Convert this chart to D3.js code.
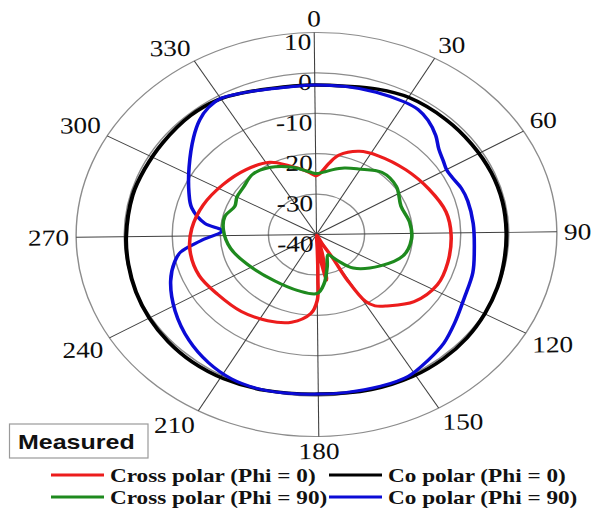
<!DOCTYPE html>
<html>
<head>
<meta charset="utf-8">
<script src="https://cdn.jsdelivr.net/npm/d3@7"></script>
<style>
  body { margin: 0; background: #fff; }
  svg { display: block; }
</style>
</head>
<body>
<svg id="chart"></svg>
<script>
const width = 595
const height = 508

// the source picture is a bit wider than tall and very slightly turned
const stretch = 1.19
const tilt = -0.65
const cx = 316.5
const cy = 234.5
const outerRadius = 202

// Axis configuration
const ringTicks = [-40, -30, -20, -10, 0, 10]
const angleTicks = [0, 30, 60, 90, 120, 150, 180, 210, 240, 270, 300, 330]

// Series data (angle in degrees, gain in dB)
const crossPhi0Angles = [0, 3, 9, 14, 24, 34, 50, 65, 79, 91, 105, 117, 130, 141, 146, 149, 151, 150.5, 153, 160, 166, 170, 173, 176, 178, 179, 180, 184, 194, 206, 220, 235, 248, 262, 274, 288, 303, 318, 332, 342, 352, 356]
const crossPhi0Values = [-25.5, -25.0, -22.2, -19.8, -17.6, -16.7, -15.5, -14.1, -12.5, -12.0, -11.8, -11.9, -13.7, -17.0, -18.5, -20.5, -27.0, -33.0, -37.5, -39.8, -35.5, -28.5, -34.0, -39.5, -36.0, -29.0, -23.7, -20.4, -17.7, -16.4, -15.4, -14.7, -13.6, -13.4, -14.0, -15.3, -16.9, -18.2, -19.6, -22.0, -24.0, -24.8]

const coPhi0Angles = [0, 10, 20, 30, 44, 56, 68, 79, 90, 100, 110, 120, 130, 140, 151, 164, 180, 196, 209, 220, 230, 240, 250, 260, 270, 285, 295, 306, 319, 329, 337, 346, 353]
const coPhi0Values = [-3.0, -2.8, -1.9, -1.1, -0.9, -0.8, -0.6, -0.5, -0.5, -0.4, -0.1, 0.2, 0.5, 0.6, 0.5, 0.1, -0.5, 0.0, 0.5, 0.7, 0.6, 0.4, 0.1, -0.2, -0.4, -0.5, -0.7, -0.7, -0.5, -0.8, -1.7, -2.6, -2.9]

const crossPhi90Angles = [0, 6, 12, 20, 29, 42, 55, 69, 82, 94, 107, 121, 138, 147, 155, 165, 173, 180, 196, 218, 244, 260, 274, 284, 293, 300, 308, 319, 330, 344, 355]
const crossPhi90Values = [-24.9, -24.5, -23.7, -22.6, -21.6, -19.5, -19.6, -21.1, -20.4, -20.2, -21.2, -24.6, -28.7, -32.4, -34.4, -31.7, -27.8, -25.4, -25.6, -25.6, -23.8, -21.8, -20.6, -20.4, -21.6, -21.0, -20.8, -20.0, -20.7, -22.6, -24.4]

const coPhi90Angles = [0, 10, 20, 30, 35, 40, 46, 51, 56, 60, 64, 70, 76, 86, 98, 107, 118, 128, 136, 144, 152, 161, 172, 180, 188, 198, 207, 216, 226, 238, 250, 258, 262, 267, 273.5, 277.5, 285, 292, 303, 314, 320, 325, 330, 337, 346, 353]
const coPhi90Values = [-3.0, -2.9, -2.7, -2.5, -2.6, -3.5, -5.2, -7.0, -8.0, -8.6, -8.5, -7.8, -7.5, -7.3, -6.9, -6.1, -5.4, -3.8, -2.2, -1.1, 0.0, -0.1, -0.4, -0.5, -0.3, 0.0, -0.2, -1.2, -2.8, -5.1, -7.6, -9.8, -11.4, -15.8, -20.3, -16.6, -13.2, -11.5, -8.6, -4.8, -2.6, -1.3, -0.8, -1.7, -2.7, -3.0]

const seriesNames = ["Cross polar (Phi = 0)", "Co polar (Phi = 0)", "Cross polar (Phi = 90)", "Co polar (Phi = 90)"]
const seriesColors = ["#ec1c1c", "#000000", "#1e8a1e", "#0b0bd6"]

const series = [
    { name: seriesNames[0], color: seriesColors[0], points: d3.zip(crossPhi0Angles, crossPhi0Values) },
    { name: seriesNames[1], color: seriesColors[1], points: d3.zip(coPhi0Angles, coPhi0Values) },
    { name: seriesNames[2], color: seriesColors[2], points: d3.zip(crossPhi90Angles, crossPhi90Values) },
    { name: seriesNames[3], color: seriesColors[3], points: d3.zip(coPhi90Angles, coPhi90Values) }
]

const serif = "'Liberation Serif', 'Times New Roman', serif"

const svg = d3.select("#chart")
    .attr("width", width)
    .attr("height", height)

svg.append("rect")
    .attr("width", width)
    .attr("height", height)
    .attr("fill", "#fff")

const r = d3.scaleLinear()
    .domain([ringTicks[0], ringTicks[ringTicks.length - 1]])
    .range([0, outerRadius])
    .clamp(true)

const rad = deg => deg * Math.PI / 180

const plot = svg.append("g")
    .attr("transform", `translate(${cx},${cy}) rotate(${tilt}) scale(${stretch},1)`)

// rings
plot.append("g")
    .selectAll("circle")
    .data(ringTicks.slice(1))
    .enter()
    .append("circle")
    .attr("r", d => r(d))
    .attr("fill", "none")
    .attr("stroke", "#8c8c8c")
    .attr("stroke-width", 1.2)

// spokes
plot.append("g")
    .selectAll("line")
    .data(angleTicks)
    .enter()
    .append("line")
    .attr("x1", 0)
    .attr("y1", 0)
    .attr("x2", d => outerRadius * Math.sin(rad(d)))
    .attr("y2", d => -outerRadius * Math.cos(rad(d)))
    .attr("stroke", "#404040")
    .attr("stroke-width", 0.9)

// angle labels
const labelGap = 6
plot.append("g")
    .selectAll("text")
    .data(angleTicks)
    .enter()
    .append("text")
    .attr("x", d => (outerRadius + labelGap) * Math.sin(rad(d)))
    .attr("y", d => -(outerRadius + labelGap) * Math.cos(rad(d)))
    .attr("text-anchor", d => {
        const s = Math.sin(rad(d))
        return Math.abs(s) < 0.1 ? "middle" : (s > 0 ? "start" : "end")
    })
    .attr("dy", d => {
        const c = Math.cos(rad(d))
        return c > 0.1 ? "0em" : (c < -0.1 ? "0.72em" : "0.35em")
    })
    .attr("font-family", serif)
    .attr("font-size", 23)
    .attr("fill", "#0d0d0d")
    .text(d => d)

// radial labels
plot.append("g")
    .selectAll("text")
    .data(ringTicks)
    .enter()
    .append("text")
    .attr("x", -2.5)
    .attr("y", d => -r(d))
    .attr("dy", "0.74em")
    .attr("text-anchor", "end")
    .attr("font-family", serif)
    .attr("font-size", 23)
    .attr("fill", "#0d0d0d")
    .text(d => d)

// curves
const radialLine = d3.lineRadial()
    .angle(d => rad(d[0]))
    .radius(d => r(d[1]))
    .curve(d3.curveCatmullRomClosed.alpha(0.5))

const drawOrder = [1, 3, 0, 2]
plot.append("g")
    .selectAll("path")
    .data(drawOrder.map(i => series[i]))
    .enter()
    .append("path")
    .attr("d", d => radialLine(d.points))
    .attr("fill", "none")
    .attr("stroke", d => d.color)
    .attr("stroke-width", d => d.color === "#000000" ? 3.4 : 3)
    .attr("stroke-linejoin", "round")

// "Measured" box
svg.append("rect")
    .attr("x", 9.5)
    .attr("y", 424)
    .attr("width", 138.5)
    .attr("height", 34)
    .attr("fill", "#fff")
    .attr("stroke", "#9a9a9a")
    .attr("stroke-width", 1.2)

svg.append("text")
    .attr("transform", `scale(${stretch},1)`)
    .attr("x", 18 / stretch)
    .attr("y", 441)
    .attr("dy", "0.36em")
    .attr("font-family", "'Liberation Sans', Arial, sans-serif")
    .attr("font-weight", "bold")
    .attr("font-size", 21)
    .attr("fill", "#111")
    .text("Measured")

// legend, two rows of two
const legendRows = [475, 497]
const legendCols = [51, 329]
const legend = svg.append("g")
    .selectAll("g")
    .data(series)
    .enter()
    .append("g")
    .attr("transform", (d, i) => `translate(${legendCols[i % 2]},${legendRows[Math.floor(i / 2)]})`)

legend.append("line")
    .attr("x1", 0)
    .attr("x2", 53)
    .attr("stroke", d => d.color)
    .attr("stroke-width", 3.2)

legend.append("text")
    .attr("transform", `scale(${stretch},1)`)
    .attr("x", 59 / stretch)
    .attr("dy", "0.34em")
    .attr("font-family", serif)
    .attr("font-weight", "bold")
    .attr("font-size", 19.5)
    .attr("fill", "#111")
    .text(d => d.name)
</script>
</body>
</html>
